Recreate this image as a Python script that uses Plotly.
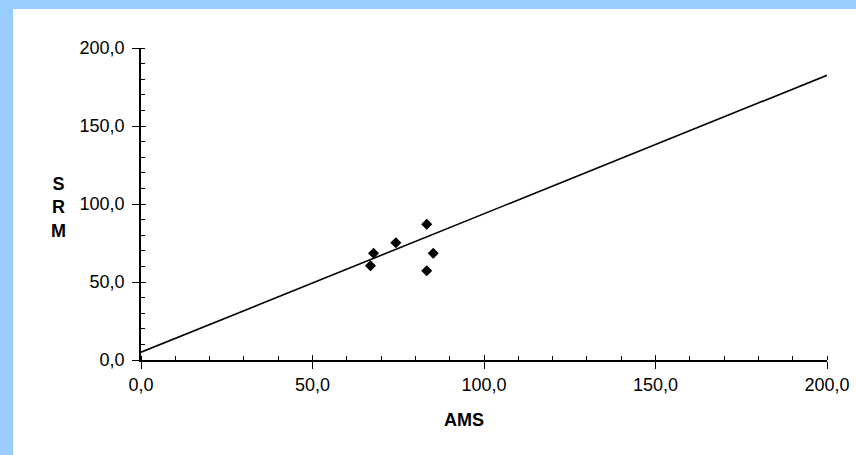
import plotly.graph_objects as go

ams = [83.3, 74.3, 67.8, 66.9, 85.2, 83.3]
srm = [87.0, 75.2, 68.4, 60.4, 68.4, 57.2]
trend_x = [0, 200]
trend_y = [5.0, 182.5]
tick_vals = [0, 50, 100, 150, 200]

W, H = 856, 455
ml, mr, mt, mb = 141, 29, 48, 95
pw, ph = W - ml - mr, H - mt - mb

def px_x(p):
    return (p - ml) / pw

def px_y(p):
    return (H - mb - p) / ph

font = dict(family="Liberation Sans, Arial, sans-serif", size=18, color="black")

fig = go.Figure()
fig.add_trace(go.Scatter(x=trend_x, y=trend_y, mode="lines",
                         line=dict(color="black", width=1.6),
                         hoverinfo="skip", showlegend=False))
fig.add_trace(go.Scatter(x=ams, y=srm, mode="markers", xaxis="x2", yaxis="y2",
                         marker=dict(symbol="diamond", size=8.5, color="black"),
                         showlegend=False))

axis_common = dict(range=[0, 200], showgrid=False, zeroline=False,
                   tickvals=tick_vals, tickformat=".1f",
                   tickfont=font, color="black")

fig.update_layout(
    width=W, height=H,
    margin=dict(l=ml, r=mr, t=mt, b=mb, autoexpand=False),
    paper_bgcolor="white", plot_bgcolor="rgba(0,0,0,0)",
    separators=", ",
    font=font,
    xaxis=dict(**axis_common, showline=True, linecolor="black", linewidth=1.6,
               ticks="outside", ticklen=7, tickwidth=1.3, tickcolor="black",
               ticklabelstandoff=1,
               minor=dict(dtick=10, ticks="inside", ticklen=4, tickwidth=1.1,
                          tickcolor="black")),
    yaxis=dict(**axis_common, showline=True, linecolor="black", linewidth=1.6,
               ticks="outside", ticklen=7, tickwidth=1.3, tickcolor="black",
               ticklabelstandoff=4,
               minor=dict(dtick=10, ticks="inside", ticklen=4, tickwidth=1.1,
                          tickcolor="black")),
    xaxis2=dict(range=[0, 200], overlaying="x", showgrid=False, zeroline=False,
                showline=False, tickvals=tick_vals, ticks="inside", ticklen=5,
                tickwidth=1.3, tickcolor="black", showticklabels=False),
    yaxis2=dict(range=[0, 200], overlaying="y", showgrid=False, zeroline=False,
                showline=False, tickvals=tick_vals, ticks="inside", ticklen=5,
                tickwidth=1.3, tickcolor="black", showticklabels=False),
    shapes=[
        dict(type="rect", xref="paper", yref="paper", layer="below",
             x0=px_x(-5), x1=px_x(13), y0=px_y(H + 5), y1=px_y(-5),
             fillcolor="#99CCFF", line=dict(width=0)),
        dict(type="rect", xref="paper", yref="paper", layer="below",
             x0=px_x(-5), x1=px_x(W + 5), y0=px_y(9), y1=px_y(-5),
             fillcolor="#99CCFF", line=dict(width=0)),
    ],
    annotations=[
        dict(text="<b>AMS</b>", xref="paper", yref="paper",
             x=px_x(464), y=px_y(420), showarrow=False,
             xanchor="center", yanchor="middle", font=font),
        dict(text="<b>S<br>R<br>M</b>", xref="paper", yref="paper",
             x=px_x(58), y=px_y(207), showarrow=False,
             xanchor="center", yanchor="middle", font=font),
    ],
)

fig.write_html("out.html",
               config={"displayModeBar": False},
               post_script="document.body.style.margin='0';"
                           "document.body.style.overflow='hidden';")
